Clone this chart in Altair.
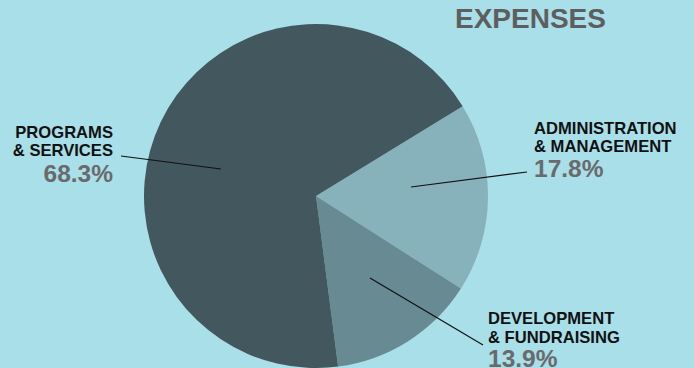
import math
import altair as alt
import pandas as pd

# ---- data ----
categories = ["Administration & Management", "Development & Fundraising", "Programs & Services"]
values = [17.8, 13.9, 68.3]
line1 = ["ADMINISTRATION", "DEVELOPMENT", "PROGRAMS"]
line2 = ["& MANAGEMENT", "& FUNDRAISING", "& SERVICES"]
colors = ["#88b2bb", "#688a92", "#43575e"]
title_text = "EXPENSES"

df = pd.DataFrame({
    "category": categories,
    "value": values,
    "order": list(range(len(categories))),
    "line1": line1,
    "line2": line2,
    "pct": [f"{v:.1f}%" for v in values],
})

start = math.radians(58.5)
CX, CY, R = 316, 196, 172
FONT = "Liberation Sans"

pie = alt.Chart(df).mark_arc(outerRadius=R).encode(
    theta=alt.Theta("value:Q", stack=True,
                    scale=alt.Scale(range=[start, start + 2 * math.pi])),
    color=alt.Color("category:N", scale=alt.Scale(domain=categories, range=colors), legend=None),
    order=alt.Order("order:Q"),
    x=alt.value(CX),
    y=alt.value(CY),
)


def txt(cat, field, x, y, align, size, color):
    return alt.Chart(df).transform_filter(alt.datum.category == cat).mark_text(
        align=align, baseline="alphabetic", font=FONT, fontSize=size,
        fontWeight="bold", color=color,
    ).encode(x=alt.value(x), y=alt.value(y), text=f"{field}:N")


def leader(cat, x1, y1, x2, y2):
    return alt.Chart(df).transform_filter(alt.datum.category == cat).mark_rule(
        color="#111111", strokeWidth=1.2
    ).encode(x=alt.value(x1), y=alt.value(y1), x2=alt.value(x2), y2=alt.value(y2))


label_layout = {
    # category: (x, align, baseline1, baseline2, baselinePct)
    categories[2]: (113, "right", 138, 156, 182),
    categories[0]: (534, "left", 134, 152, 177),
    categories[1]: (488, "left", 324, 343, 367),
}

layers = [pie]
layers += [
    leader(categories[2], 121, 156, 221, 169),
    leader(categories[0], 527, 172, 411, 187),
    leader(categories[1], 370, 278, 483, 345),
]
for cat, (x, al, b1, b2, b3) in label_layout.items():
    layers.append(txt(cat, "line1", x, b1, al, 16.6, "#111111"))
    layers.append(txt(cat, "line2", x, b2, al, 16.6, "#111111"))
    layers.append(txt(cat, "pct", x, b3, al, 24.5, "#6a6a6c"))

title = alt.Chart(pd.DataFrame({"t": [title_text]})).mark_text(
    align="left", baseline="alphabetic", font=FONT, fontSize=28,
    fontWeight="bold", color="#5e5e60",
).encode(x=alt.value(455), y=alt.value(28), text="t:N")
layers.append(title)

chart = alt.layer(*layers).properties(
    width=694, height=368,
    autosize=alt.AutoSizeParams(type="none"),
    padding=0,
    background="#a8dfe8",
).configure_view(strokeWidth=0)

chart.save("out.html", embed_options={"renderer": "svg", "actions": False})
